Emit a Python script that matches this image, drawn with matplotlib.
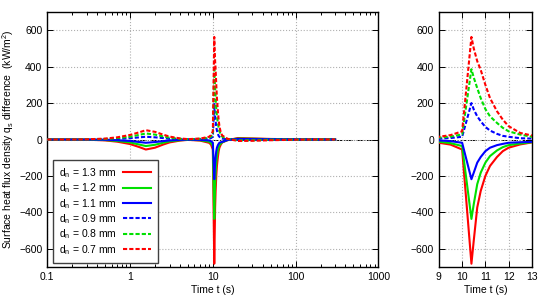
import numpy as np
import matplotlib
matplotlib.use("Agg")
import matplotlib.pyplot as plt

plt.rcParams['font.family'] = ['Liberation Sans', 'DejaVu Sans']
plt.rcParams['font.size'] = 7.5

# time points (s)
t = [0.1, 0.2, 0.3, 0.5, 0.7, 1.0, 1.3, 1.55, 2.0, 2.5, 3.0, 4.0, 5.0, 7.0,
     9.0, 9.5, 10.0, 10.4, 10.5, 10.65, 10.8, 11.0, 11.2, 11.5, 11.75, 12.0,
     12.5, 13.0, 15.0, 20.0, 30.0, 50.0, 100.0, 200.0, 300.0]

# heat flux difference (kW/m^2) for each nozzle diameter
q_13 = [0, 0, -1, -5, -12, -25, -42, -55, -45, -28, -16, -6, -2, -6,
        -18, -28, -55, -682, -555, -373, -282, -200, -145, -96, -64, -45,
        -27, -16, -4, 8, 6, 3, 1, 0, 0]
q_12 = [0, 0, -1, -3, -8, -16, -28, -36, -29, -18, -10, -4, -1, -4,
        -12, -20, -36, -436, -355, -245, -182, -127, -91, -60, -42, -31,
        -22, -15, -3, 5, 4, 2, 1, 0, 0]
q_11 = [0, 0, 0, -1, -4, -8, -14, -18, -14, -9, -5, -2, -1, -2,
        -5, -9, -18, -218, -182, -127, -96, -64, -45, -31, -24, -18,
        -15, -13, -3, 3, 2, 1, 0, 0, 0]
q_09 = [0, 0, 0, 1, 3, 7, 12, 15, 12, 8, 4, 2, 1, 2,
        5, 8, 15, 200, 165, 127, 100, 69, 49, 31, 20, 15,
        7, 5, 1, -2, -2, -1, 0, 0, 0]
q_08 = [0, 0, 1, 3, 8, 15, 26, 33, 27, 17, 10, 4, 1, 4,
        10, 16, 28, 386, 340, 282, 227, 167, 127, 91, 64, 45,
        27, 15, 3, -5, -4, -2, -1, 0, 0]
q_07 = [0, 0, 1, 5, 12, 25, 40, 51, 42, 27, 16, 6, 2, 5,
        15, 24, 45, 563, 500, 430, 382, 300, 227, 155, 109, 73,
        36, 22, 4, -8, -7, -4, -1, 0, 0]

labels = ['d$_\\mathregular{n}$ = 1.3 mm', 'd$_\\mathregular{n}$ = 1.2 mm',
          'd$_\\mathregular{n}$ = 1.1 mm', 'd$_\\mathregular{n}$ = 0.9 mm',
          'd$_\\mathregular{n}$ = 0.8 mm', 'd$_\\mathregular{n}$ = 0.7 mm']
series = [q_13, q_12, q_11, q_09, q_08, q_07]
colors = ['#ff0000', '#00e000', '#0000ff', '#0000ff', '#00e000', '#ff0000']
styles = ['-', '-', '-', (0, (2, 1)), (0, (2, 1)), (0, (2, 1))]

yticks = [-600, -400, -200, 0, 200, 400, 600]

fig = plt.figure(figsize=(5.5, 3.0), dpi=100)
axL = fig.add_axes([0.086, 0.11, 0.602, 0.85])
axR = fig.add_axes([0.798, 0.11, 0.169, 0.85])

for ax in (axL, axR):
    ax.axhline(0, color='black', lw=0.7, ls='-.', zorder=1)
    for y, c, s, lab in zip(series, colors, styles, labels):
        ax.plot(t, y, color=c, ls=s, lw=1.5, label=lab, zorder=3)
    ax.set_ylim(-700, 700)
    ax.set_yticks(yticks)
    ax.grid(True, which='major', color='#b0b0b0', ls=':', lw=0.8)
    ax.tick_params(which='both', direction='in', top=True, right=True,
                   labelsize=7.5, length=4, width=0.7)
    ax.tick_params(which='minor', length=2)
    for sp in ax.spines.values():
        sp.set_linewidth(1.0)
    ax.set_xlabel('Time t (s)', fontsize=7.5, labelpad=2)

axL.set_xscale('log')
axL.set_xlim(0.1, 1000)
axL.set_xticks([0.1, 1, 10, 100, 1000])
axL.set_xticklabels(['0.1', '1', '10', '100', '1000'])
axL.set_ylabel('Surface heat flux density q$_\\mathregular{s}$ difference  (kW/m$^\\mathregular{2}$)',
               fontsize=7.5, labelpad=2)

axR.set_xlim(9, 13)
axR.set_xticks([9, 10, 11, 12, 13])

leg = axL.legend(loc='lower left', bbox_to_anchor=(0.017, 0.016), borderaxespad=0,
                 markerfirst=False, handlelength=2.7, fontsize=7.5,
                 fancybox=False, framealpha=1, edgecolor='#404040',
                 borderpad=0.6, labelspacing=0.15, handletextpad=0.6)
leg.get_frame().set_linewidth(1.0)

fig.savefig('out.png', dpi=100)
